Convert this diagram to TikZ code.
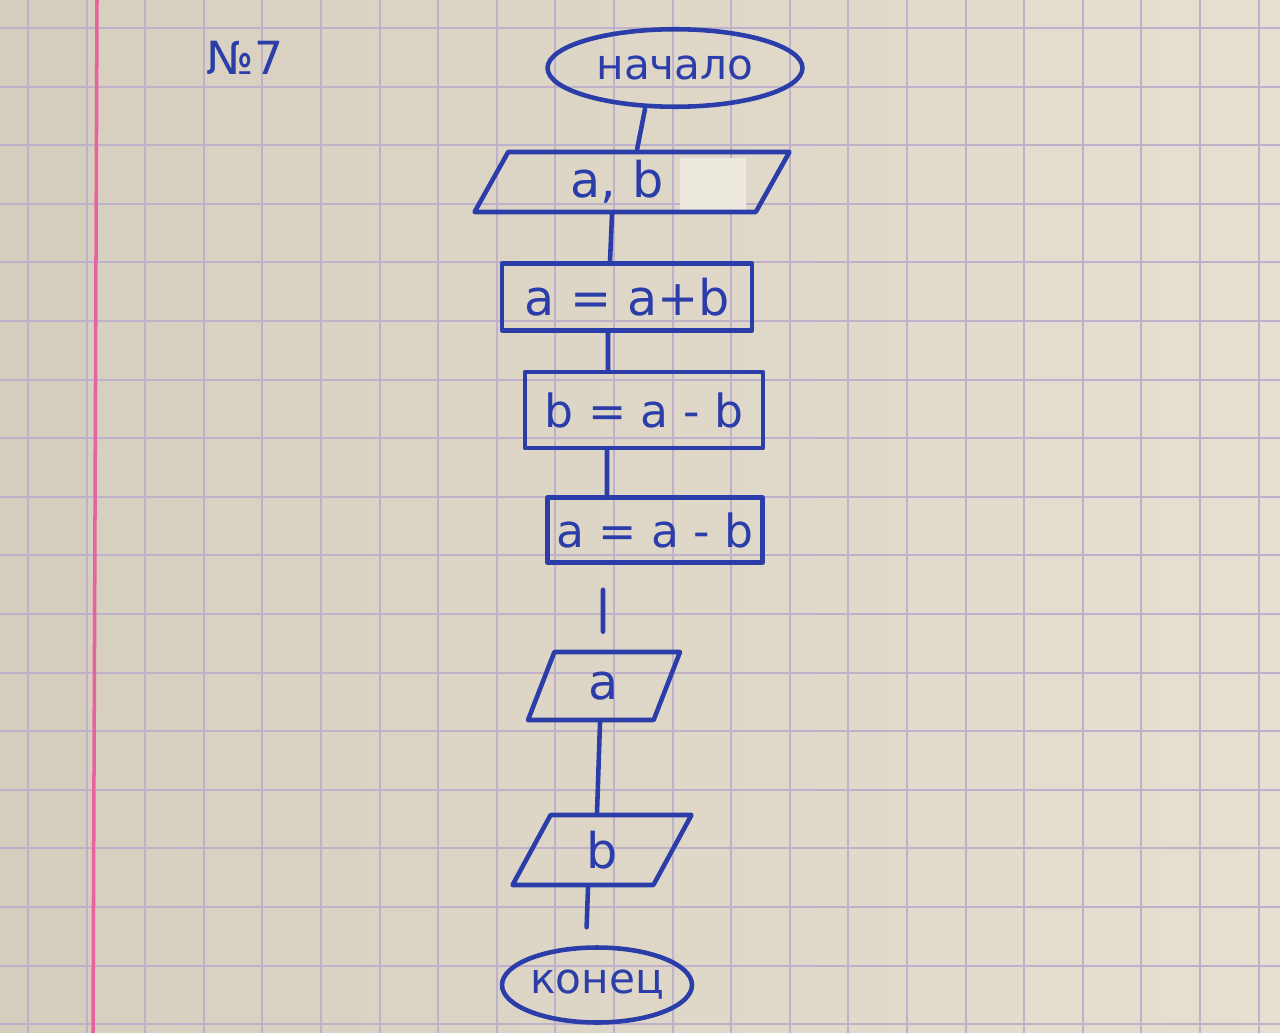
\documentclass[tikz,border=0pt]{standalone}
\usepackage{fontspec}
\setmainfont{DejaVu Sans}
\usetikzlibrary{shapes.geometric}
\definecolor{ink}{HTML}{2B3DA8}
\definecolor{paperL}{HTML}{D6CEBD}
\definecolor{paperR}{HTML}{E6E0D3}
\definecolor{gridc}{HTML}{BFB1CB}
\definecolor{marginc}{HTML}{E8629E}
\definecolor{patchc}{HTML}{EDE9DF}
\tikzset{
  inkline/.style={draw=ink, line width=2.6pt, line cap=round, line join=round},
  termbox/.style={inkline, ellipse, inner sep=0pt, text=ink, font=\fontsize{24}{26}\selectfont},
  procbox/.style={inkline, rectangle, inner sep=0pt, text=ink, font=\fontsize{26}{28}\selectfont},
  iobox/.style={inkline, trapezium, trapezium stretches body, inner sep=0pt, text=ink, font=\fontsize{28}{30}\selectfont},
  conn/.style={draw=ink, line width=2.6pt, line cap=round},
  gridline/.style={draw=gridc, line width=1.1pt},
}
\begin{document}
\begin{tikzpicture}[x=0.02cm, y=-0.02cm]
\useasboundingbox (0,0) rectangle (1280,1033);
% paper
\shade[left color=paperL, right color=paperR] (0,0) rectangle (1280,1033);
\foreach \i in {0,...,21} \draw[gridline] ({28+58.6*\i},0) -- ({28+58.6*\i},1033);
\foreach \j in {0,...,17} \draw[gridline] (0,{28+58.6*\j}) -- (1280,{28+58.6*\j});
\draw[marginc, line width=2pt] (97,0) -- (93,1033);
% correction patch
\fill[patchc] (680,158) rectangle (746,214);
% title
\node[text=ink, font=\fontsize{26}{28}\selectfont] (num) at (245,58) {№7};
% flowchart
\node[termbox, minimum width=5.1cm, minimum height=1.55cm] (start) at (675,68) {начало};
\node[iobox, trapezium left angle=52, trapezium right angle=128, minimum width=6.3cm, minimum height=1.2cm] (ab) at (632,182) {a, b\hspace*{0.6cm}};
\node[procbox, font=\fontsize{28}{30}\selectfont, minimum width=5cm, minimum height=1.34cm] (r1) at (627,297) {a = a+b};
\node[procbox, minimum width=4.76cm, minimum height=1.52cm] (r2) at (644,410) {b = a - b};
\node[procbox, minimum width=4.3cm, minimum height=1.3cm] (r3) at (655,530) {a = a - b};
\node[iobox, trapezium left angle=47, trapezium right angle=133, minimum width=3.04cm, minimum height=1.36cm] (pa) at (604,686) {a};
\node[iobox, trapezium left angle=45, trapezium right angle=135, minimum width=3.58cm, minimum height=1.4cm] (pb) at (602,850) {b};
\node[termbox, minimum width=3.8cm, minimum height=1.5cm] (stop) at (597,985) {конец};
% connectors
\draw[conn] ([xshift=-0.6cm]start.south) -- ([xshift=0.1cm]ab.north);
\draw[conn] ([xshift=-0.4cm]ab.south) -- ([xshift=-0.34cm]r1.north);
\draw[conn] ([xshift=-0.38cm]r1.south) -- ([xshift=-0.72cm]r2.north);
\draw[conn] ([xshift=-0.74cm]r2.south) -- ([xshift=-0.96cm]r3.north);
\draw[conn, shorten <=0.5cm, shorten >=0.36cm] ([xshift=-1.04cm]r3.south) -- ([xshift=-0.02cm]pa.north);
\draw[conn] ([xshift=-0.08cm]pa.south) -- ([xshift=-0.1cm]pb.north);
\draw[conn, shorten >=0.36cm] ([xshift=-0.28cm]pb.south) -- ([xshift=-0.22cm]stop.north);
\end{tikzpicture}
\end{document}
